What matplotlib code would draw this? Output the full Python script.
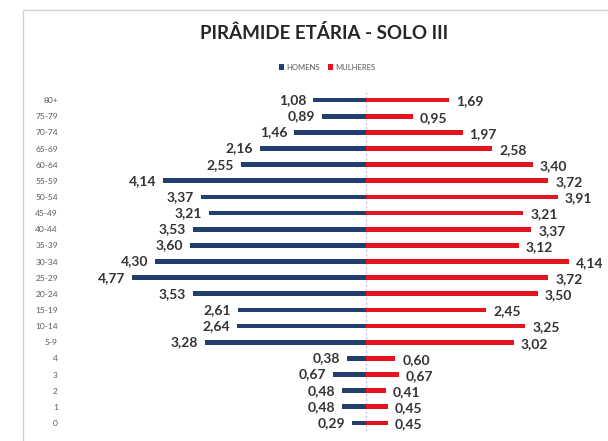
import matplotlib
matplotlib.use("Agg")
import matplotlib.pyplot as plt
from matplotlib.patches import Rectangle

age_groups = ["80+", "75-79", "70-74", "65-69", "60-64", "55-59", "50-54", "45-49",
              "40-44", "35-39", "30-34", "25-29", "20-24", "15-19", "10-14", "5-9",
              "4", "3", "2", "1", "0"]
homens = [1.08, 0.89, 1.46, 2.16, 2.55, 4.14, 3.37, 3.21, 3.53, 3.60, 4.30, 4.77,
          3.53, 2.61, 2.64, 3.28, 0.38, 0.67, 0.48, 0.48, 0.29]
mulheres = [1.69, 0.95, 1.97, 2.58, 3.40, 3.72, 3.91, 3.21, 3.37, 3.12, 4.14, 3.72,
            3.50, 2.45, 3.25, 3.02, 0.60, 0.67, 0.41, 0.45, 0.45]

BLUE = "#213E6E"
RED = "#E3141C"
TXT = "#333333"
FONT = ["Lato", "DejaVu Sans"]

W, H = 608, 441
fig = plt.figure(figsize=(W / 100, H / 100), dpi=100)

# frame
fig.patches.append(Rectangle((23 / W, -0.05), 1.2, 1.05 - 10 / H, transform=fig.transFigure,
                             fill=False, edgecolor="#D0D0D0", linewidth=1.0))

left_px, right_px = 62, 608
top_px, bot_px = 92, 431
ax = fig.add_axes([left_px / W, 1 - bot_px / H, (right_px - left_px) / W, (bot_px - top_px) / H])

n = len(age_groups)
ypos = [n - 1 - i for i in range(n)]
bh = 0.3
ax.barh(ypos, [-v for v in homens], height=bh, color=BLUE, label="HOMENS")
ax.barh(ypos, mulheres, height=bh, color=RED, label="MULHERES")

for y, v in zip(ypos, homens):
    ax.annotate(f"{v:.2f}".replace(".", ","), (-v, y), xytext=(-5, 0), textcoords="offset points",
                ha="right", va="center", fontsize=10, fontweight="bold", color=TXT, family=FONT)
for y, v in zip(ypos, mulheres):
    ax.annotate(f"{v:.2f}".replace(".", ","), (v, y), xytext=(5, -1), textcoords="offset points",
                ha="left", va="center", fontsize=10, fontweight="bold", color=TXT, family=FONT)

ppu = 49.0
ax.set_xlim(-(366 - left_px) / ppu, (right_px - 366) / ppu)
ax.set_ylim(-0.5, n - 0.5)
ax.axvline(0, color="#C8C4E4", linewidth=0.9, linestyle=(0, (2, 1.5)), zorder=0)

ax.set_yticks(ypos)
ax.set_yticklabels(age_groups, fontsize=6, color="#595959", family=FONT)
ax.tick_params(axis="y", length=0, pad=3)
ax.set_xticks([])
for s in ax.spines.values():
    s.set_visible(False)

fig.text(324 / W, 1 - 33 / H, "PIRÂMIDE ETÁRIA - SOLO III", ha="center", va="center",
         fontsize=13.5, fontweight="bold", color="#262626", family=FONT)

fig.legend(loc="center", bbox_to_anchor=(327 / W, 1 - 67 / H), ncol=2, frameon=False,
           handlelength=0.7, handleheight=0.7, handletextpad=0.3, columnspacing=1.0,
           prop={"family": FONT, "size": 5.5}, labelcolor="#595959")

fig.savefig("out.png", dpi=100)
